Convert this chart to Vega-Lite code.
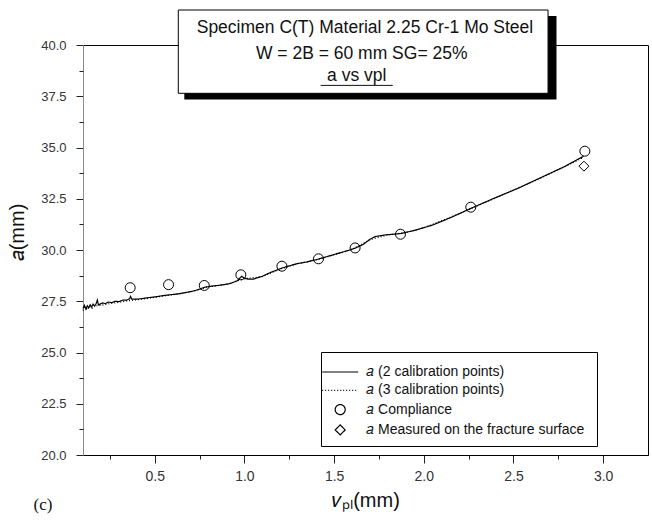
{
  "$schema": "https://vega.github.io/schema/vega-lite/v6.json",
  "width": 565,
  "height": 410,
  "autosize": {"type": "none"},
  "padding": {"left": 83, "top": 45, "right": 4, "bottom": 66},
  "background": "white",
  "config": {
    "font": "Liberation Sans",
    "view": {"stroke": "black", "strokeWidth": 1},
    "axis": {
      "labelFont": "Liberation Sans",
      "labelFontSize": 13,
      "labelColor": "#333333",
      "tickColor": "#222222",
      "tickWidth": 1,
      "grid": false,
      "titleFont": "Liberation Sans",
      "titleFontWeight": "normal",
      "titleColor": "#111111"
    },
    "legend": {
      "orient": "none",
      "legendX": 238,
      "legendY": 307,
      "padding": 8,
      "rowPadding": 4.3,
      "fillColor": "white",
      "strokeColor": "black",
      "titleFontSize": 3,
      "titlePadding": 2,
      "labelFont": "Liberation Sans",
      "labelFontSize": 14,
      "labelColor": "#111111",
      "labelOffset": 19,
      "labelLimit": 400,
      "symbolOffset": 4.2,
      "symbolSize": 100,
      "symbolStrokeColor": "black",
      "symbolStrokeWidth": 1.2
    }
  },
  "data": {
    "values": [
      {"series": "𝑎 (2 calibration points)", "vpl": 0.100, "a": 27.15},
      {"series": "𝑎 (2 calibration points)", "vpl": 0.108, "a": 27.30},
      {"series": "𝑎 (2 calibration points)", "vpl": 0.116, "a": 27.12},
      {"series": "𝑎 (2 calibration points)", "vpl": 0.124, "a": 27.28},
      {"series": "𝑎 (2 calibration points)", "vpl": 0.132, "a": 27.18},
      {"series": "𝑎 (2 calibration points)", "vpl": 0.140, "a": 27.33},
      {"series": "𝑎 (2 calibration points)", "vpl": 0.148, "a": 27.22},
      {"series": "𝑎 (2 calibration points)", "vpl": 0.156, "a": 27.36},
      {"series": "𝑎 (2 calibration points)", "vpl": 0.165, "a": 27.26},
      {"series": "𝑎 (2 calibration points)", "vpl": 0.174, "a": 27.40},
      {"series": "𝑎 (2 calibration points)", "vpl": 0.180, "a": 27.56},
      {"series": "𝑎 (2 calibration points)", "vpl": 0.186, "a": 27.32},
      {"series": "𝑎 (2 calibration points)", "vpl": 0.195, "a": 27.36},
      {"series": "𝑎 (2 calibration points)", "vpl": 0.210, "a": 27.42},
      {"series": "𝑎 (2 calibration points)", "vpl": 0.225, "a": 27.38},
      {"series": "𝑎 (2 calibration points)", "vpl": 0.240, "a": 27.46},
      {"series": "𝑎 (2 calibration points)", "vpl": 0.260, "a": 27.43},
      {"series": "𝑎 (2 calibration points)", "vpl": 0.280, "a": 27.50},
      {"series": "𝑎 (2 calibration points)", "vpl": 0.300, "a": 27.48},
      {"series": "𝑎 (2 calibration points)", "vpl": 0.320, "a": 27.55},
      {"series": "𝑎 (2 calibration points)", "vpl": 0.345, "a": 27.56},
      {"series": "𝑎 (2 calibration points)", "vpl": 0.360, "a": 27.62},
      {"series": "𝑎 (2 calibration points)", "vpl": 0.365, "a": 27.74},
      {"series": "𝑎 (2 calibration points)", "vpl": 0.372, "a": 27.60},
      {"series": "𝑎 (2 calibration points)", "vpl": 0.400, "a": 27.60},
      {"series": "𝑎 (2 calibration points)", "vpl": 0.430, "a": 27.63},
      {"series": "𝑎 (2 calibration points)", "vpl": 0.460, "a": 27.67},
      {"series": "𝑎 (2 calibration points)", "vpl": 0.500, "a": 27.71},
      {"series": "𝑎 (2 calibration points)", "vpl": 0.550, "a": 27.78},
      {"series": "𝑎 (2 calibration points)", "vpl": 0.600, "a": 27.83},
      {"series": "𝑎 (2 calibration points)", "vpl": 0.640, "a": 27.87},
      {"series": "𝑎 (2 calibration points)", "vpl": 0.700, "a": 27.97},
      {"series": "𝑎 (2 calibration points)", "vpl": 0.740, "a": 28.06},
      {"series": "𝑎 (2 calibration points)", "vpl": 0.780, "a": 28.19},
      {"series": "𝑎 (2 calibration points)", "vpl": 0.820, "a": 28.24},
      {"series": "𝑎 (2 calibration points)", "vpl": 0.860, "a": 28.28},
      {"series": "𝑎 (2 calibration points)", "vpl": 0.920, "a": 28.36},
      {"series": "𝑎 (2 calibration points)", "vpl": 0.960, "a": 28.50},
      {"series": "𝑎 (2 calibration points)", "vpl": 0.985, "a": 28.72},
      {"series": "𝑎 (2 calibration points)", "vpl": 1.000, "a": 28.62},
      {"series": "𝑎 (2 calibration points)", "vpl": 1.020, "a": 28.58},
      {"series": "𝑎 (2 calibration points)", "vpl": 1.050, "a": 28.58},
      {"series": "𝑎 (2 calibration points)", "vpl": 1.100, "a": 28.72},
      {"series": "𝑎 (2 calibration points)", "vpl": 1.150, "a": 28.92},
      {"series": "𝑎 (2 calibration points)", "vpl": 1.210, "a": 29.12},
      {"series": "𝑎 (2 calibration points)", "vpl": 1.290, "a": 29.33},
      {"series": "𝑎 (2 calibration points)", "vpl": 1.350, "a": 29.42},
      {"series": "𝑎 (2 calibration points)", "vpl": 1.410, "a": 29.55},
      {"series": "𝑎 (2 calibration points)", "vpl": 1.500, "a": 29.78},
      {"series": "𝑎 (2 calibration points)", "vpl": 1.580, "a": 29.98},
      {"series": "𝑎 (2 calibration points)", "vpl": 1.620, "a": 30.10},
      {"series": "𝑎 (2 calibration points)", "vpl": 1.660, "a": 30.26},
      {"series": "𝑎 (2 calibration points)", "vpl": 1.700, "a": 30.52},
      {"series": "𝑎 (2 calibration points)", "vpl": 1.730, "a": 30.66},
      {"series": "𝑎 (2 calibration points)", "vpl": 1.790, "a": 30.74},
      {"series": "𝑎 (2 calibration points)", "vpl": 1.870, "a": 30.80},
      {"series": "𝑎 (2 calibration points)", "vpl": 1.950, "a": 30.96},
      {"series": "𝑎 (2 calibration points)", "vpl": 2.050, "a": 31.22},
      {"series": "𝑎 (2 calibration points)", "vpl": 2.150, "a": 31.58},
      {"series": "𝑎 (2 calibration points)", "vpl": 2.260, "a": 32.02},
      {"series": "𝑎 (2 calibration points)", "vpl": 2.380, "a": 32.48},
      {"series": "𝑎 (2 calibration points)", "vpl": 2.520, "a": 32.99},
      {"series": "𝑎 (2 calibration points)", "vpl": 2.650, "a": 33.52},
      {"series": "𝑎 (2 calibration points)", "vpl": 2.780, "a": 34.05},
      {"series": "𝑎 (2 calibration points)", "vpl": 2.890, "a": 34.57},

      {"series": "𝑎 (3 calibration points)", "vpl": 0.100, "a": 27.05},
      {"series": "𝑎 (3 calibration points)", "vpl": 0.112, "a": 27.22},
      {"series": "𝑎 (3 calibration points)", "vpl": 0.122, "a": 27.08},
      {"series": "𝑎 (3 calibration points)", "vpl": 0.135, "a": 27.25},
      {"series": "𝑎 (3 calibration points)", "vpl": 0.150, "a": 27.15},
      {"series": "𝑎 (3 calibration points)", "vpl": 0.165, "a": 27.30},
      {"series": "𝑎 (3 calibration points)", "vpl": 0.180, "a": 27.28},
      {"series": "𝑎 (3 calibration points)", "vpl": 0.200, "a": 27.30},
      {"series": "𝑎 (3 calibration points)", "vpl": 0.230, "a": 27.35},
      {"series": "𝑎 (3 calibration points)", "vpl": 0.260, "a": 27.40},
      {"series": "𝑎 (3 calibration points)", "vpl": 0.300, "a": 27.45},
      {"series": "𝑎 (3 calibration points)", "vpl": 0.350, "a": 27.52},
      {"series": "𝑎 (3 calibration points)", "vpl": 0.400, "a": 27.57},
      {"series": "𝑎 (3 calibration points)", "vpl": 0.500, "a": 27.69},
      {"series": "𝑎 (3 calibration points)", "vpl": 0.600, "a": 27.82},
      {"series": "𝑎 (3 calibration points)", "vpl": 0.700, "a": 27.96},
      {"series": "𝑎 (3 calibration points)", "vpl": 0.800, "a": 28.20},
      {"series": "𝑎 (3 calibration points)", "vpl": 0.900, "a": 28.32},
      {"series": "𝑎 (3 calibration points)", "vpl": 1.000, "a": 28.60},
      {"series": "𝑎 (3 calibration points)", "vpl": 1.100, "a": 28.70},
      {"series": "𝑎 (3 calibration points)", "vpl": 1.200, "a": 29.08},
      {"series": "𝑎 (3 calibration points)", "vpl": 1.300, "a": 29.33},
      {"series": "𝑎 (3 calibration points)", "vpl": 1.400, "a": 29.52},
      {"series": "𝑎 (3 calibration points)", "vpl": 1.500, "a": 29.76},
      {"series": "𝑎 (3 calibration points)", "vpl": 1.600, "a": 30.03},
      {"series": "𝑎 (3 calibration points)", "vpl": 1.700, "a": 30.50},
      {"series": "𝑎 (3 calibration points)", "vpl": 1.800, "a": 30.74},
      {"series": "𝑎 (3 calibration points)", "vpl": 1.900, "a": 30.85},
      {"series": "𝑎 (3 calibration points)", "vpl": 2.000, "a": 31.08},
      {"series": "𝑎 (3 calibration points)", "vpl": 2.200, "a": 31.78},
      {"series": "𝑎 (3 calibration points)", "vpl": 2.400, "a": 32.54},
      {"series": "𝑎 (3 calibration points)", "vpl": 2.600, "a": 33.30},
      {"series": "𝑎 (3 calibration points)", "vpl": 2.800, "a": 34.12},
      {"series": "𝑎 (3 calibration points)", "vpl": 2.890, "a": 34.52},

      {"series": "𝑎 Compliance", "vpl": 0.363, "a": 28.16},
      {"series": "𝑎 Compliance", "vpl": 0.577, "a": 28.31},
      {"series": "𝑎 Compliance", "vpl": 0.776, "a": 28.27},
      {"series": "𝑎 Compliance", "vpl": 0.980, "a": 28.79},
      {"series": "𝑎 Compliance", "vpl": 1.209, "a": 29.21},
      {"series": "𝑎 Compliance", "vpl": 1.413, "a": 29.57},
      {"series": "𝑎 Compliance", "vpl": 1.617, "a": 30.10},
      {"series": "𝑎 Compliance", "vpl": 1.870, "a": 30.77},
      {"series": "𝑎 Compliance", "vpl": 2.262, "a": 32.09},
      {"series": "𝑎 Compliance", "vpl": 2.898, "a": 34.82},

      {"series": "𝑎  Measured on the fracture surface", "vpl": 2.893, "a": 34.09}
    ]
  },
  "resolve": {"axis": {"x": "independent", "y": "independent"}},
  "layer": [
    {
      "transform": [{"filter": "indexof(datum.series, 'calibration') >= 0"}],
      "mark": {"type": "line", "stroke": "black", "strokeWidth": 1.2},
      "encoding": {
        "x": {
          "field": "vpl", "type": "quantitative",
          "scale": {"domain": [0.1, 3.25], "nice": false, "zero": false},
          "axis": {
            "orient": "bottom",
            "values": [0.5, 1.0, 1.5, 2.0, 2.5, 3.0],
            "format": ".1f",
            "tickSize": 8,
            "labelPadding": 6,
            "labelFontSize": 14,
            "domainColor": "black",
            "title": "𝜈ₚₗ(mm)",
            "titleFontSize": 20,
            "titleBaseline": "middle",
            "titleY": 45
          }
        },
        "y": {
          "field": "a", "type": "quantitative",
          "scale": {"domain": [20, 40], "nice": false, "zero": false},
          "axis": {
            "orient": "left",
            "values": [20, 22.5, 25, 27.5, 30, 32.5, 35, 37.5, 40],
            "format": ".1f",
            "tickSize": 7,
            "labelPadding": 10,
            "domainColor": "#8a8a8a",
            "title": "𝑎(mm)",
            "titleFontSize": 20,
            "titleAngle": -90,
            "titleAlign": "center",
            "titleBaseline": "middle",
            "titleX": -66,
            "titleY": 187
          }
        },
        "strokeDash": {
          "field": "series", "type": "nominal",
          "scale": {
            "domain": ["𝑎 (2 calibration points)", "𝑎 (3 calibration points)", "𝑎 Compliance", "𝑎  Measured on the fracture surface"],
            "range": [[1, 0], [1, 2], [1, 0], [1, 0]]
          },
          "legend": {"title": " "}
        }
      }
    },
    {
      "transform": [{"filter": "indexof(datum.series, 'calibration') < 0"}],
      "mark": {"type": "point", "filled": false, "stroke": "black", "strokeWidth": 1, "opacity": 1, "size": 100},
      "encoding": {
        "x": {
          "field": "vpl", "type": "quantitative",
          "axis": {
            "orient": "bottom",
            "values": [0.25, 0.75, 1.25, 1.75, 2.25, 2.75],
            "labels": false, "domain": false, "tickSize": 4, "title": null
          }
        },
        "y": {
          "field": "a", "type": "quantitative",
          "axis": {
            "orient": "left",
            "values": [21.25, 23.75, 26.25, 28.75, 31.25, 33.75, 36.25, 38.75],
            "labels": false, "domain": false, "tickSize": 4, "title": null
          }
        },
        "shape": {
          "field": "series", "type": "nominal",
          "scale": {
            "domain": ["𝑎 (2 calibration points)", "𝑎 (3 calibration points)", "𝑎 Compliance", "𝑎  Measured on the fracture surface"],
            "range": ["M-3.6,0H3.6", "M-3.6,0H3.6", "circle", "diamond"]
          },
          "legend": {"title": " "}
        }
      }
    },
    {
      "data": {"values": [{}]},
      "mark": {"type": "rect", "fill": "black"},
      "encoding": {
        "x": {"datum": 0.6648, "type": "quantitative", "axis": null},
        "x2": {"datum": 2.7398},
        "y": {"datum": 41.415, "type": "quantitative", "axis": null},
        "y2": {"datum": 37.341}
      }
    },
    {
      "data": {"values": [{}]},
      "mark": {"type": "rect", "fill": "white", "stroke": "black", "strokeWidth": 1},
      "encoding": {
        "x": {"datum": 0.6313, "type": "quantitative", "axis": null},
        "x2": {"datum": 2.6927},
        "y": {"datum": 41.707, "type": "quantitative", "axis": null},
        "y2": {"datum": 37.644}
      }
    },
    {
      "data": {"values": [{}]},
      "mark": {"type": "text", "font": "Liberation Sans", "fontSize": 17.5, "color": "#111111", "align": "center", "baseline": "middle", "text": "Specimen C(T) Material 2.25 Cr-1 Mo Steel"},
      "encoding": {
        "x": {"datum": 1.672, "type": "quantitative", "axis": null},
        "y": {"datum": 40.83, "type": "quantitative", "axis": null}
      }
    },
    {
      "data": {"values": [{}]},
      "mark": {"type": "text", "font": "Liberation Sans", "fontSize": 17.5, "color": "#111111", "align": "center", "baseline": "middle", "text": "W = 2B = 60 mm  SG= 25%"},
      "encoding": {
        "x": {"datum": 1.654, "type": "quantitative", "axis": null},
        "y": {"datum": 39.56, "type": "quantitative", "axis": null}
      }
    },
    {
      "data": {"values": [{}]},
      "mark": {"type": "text", "font": "Liberation Sans", "fontSize": 17.5, "color": "#111111", "align": "center", "baseline": "alphabetic", "text": "a vs vpl"},
      "encoding": {
        "x": {"datum": 1.626, "type": "quantitative", "axis": null},
        "y": {"datum": 38.22, "type": "quantitative", "axis": null}
      }
    },
    {
      "data": {"values": [{}]},
      "mark": {"type": "rule", "stroke": "#111111", "strokeWidth": 1},
      "encoding": {
        "x": {"datum": 1.425, "type": "quantitative", "axis": null},
        "x2": {"datum": 1.827},
        "y": {"datum": 38.03, "type": "quantitative", "axis": null}
      }
    },
    {
      "data": {"values": [{}]},
      "mark": {"type": "text", "font": "Liberation Serif", "fontSize": 17, "color": "#111111", "align": "center", "baseline": "middle", "text": "(c)"},
      "encoding": {
        "x": {"datum": -0.123, "type": "quantitative", "axis": null},
        "y": {"datum": 17.56, "type": "quantitative", "axis": null}
      }
    }
  ]
}
